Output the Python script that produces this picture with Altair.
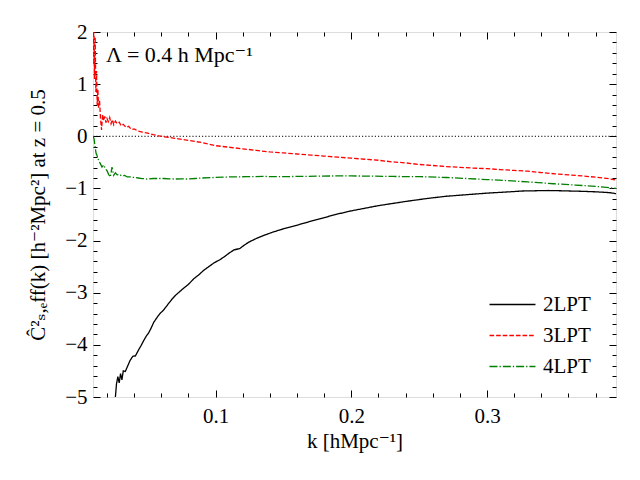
import altair as alt
import pandas as pd

# ---- data ----
k2 = [0.0240, 0.0255, 0.0262, 0.0270, 0.0280, 0.0290, 0.0300, 0.0310, 0.0320, 0.0335,
      0.0350, 0.0370, 0.0390, 0.0410, 0.0434, 0.0450, 0.0470, 0.0490, 0.0507, 0.0525,
      0.0544, 0.0570, 0.0590, 0.0618, 0.0650, 0.0680, 0.0705, 0.0735, 0.0766, 0.0800,
      0.0840, 0.0875, 0.0913, 0.0950, 0.0987, 0.1030, 0.1070, 0.1100, 0.1135, 0.1180,
      0.1210, 0.1245, 0.1300, 0.1356, 0.1420, 0.1480, 0.1550, 0.1620, 0.1700, 0.1800,
      0.1900, 0.2000, 0.2100, 0.2200, 0.2300, 0.2400, 0.2510, 0.2600, 0.2700, 0.2800,
      0.2900, 0.3000, 0.3100, 0.3200, 0.3250, 0.3350, 0.3450, 0.3550, 0.3620, 0.3700,
      0.3800, 0.3900, 0.3950]
c2 = [-5.6, -5.3, -5.0, -4.75, -4.61, -4.73, -4.55, -4.67, -4.5, -4.51,
      -4.42, -4.3, -4.22, -4.21, -4.09, -4.02, -3.92, -3.83, -3.77, -3.68,
      -3.57, -3.47, -3.4, -3.33, -3.22, -3.12, -3.05, -2.98, -2.91, -2.84,
      -2.73, -2.66, -2.57, -2.5, -2.43, -2.37, -2.3, -2.24, -2.18, -2.15,
      -2.09, -2.03, -1.96, -1.9, -1.84, -1.79, -1.74, -1.69, -1.63, -1.56,
      -1.49, -1.43, -1.38, -1.33, -1.29, -1.25, -1.21, -1.18, -1.15, -1.13,
      -1.11, -1.09, -1.075, -1.06, -1.05, -1.045, -1.04, -1.045, -1.05, -1.055,
      -1.065, -1.08, -1.10]

k3 = [0.0098, 0.0103, 0.0108, 0.0113, 0.0118, 0.0123, 0.0128, 0.0133, 0.0138, 0.0145,
      0.0152, 0.0160, 0.0168, 0.0176, 0.0184, 0.0192, 0.0200, 0.0210, 0.0220, 0.0230,
      0.0240, 0.0250, 0.0262, 0.0275, 0.0290, 0.0305, 0.0320, 0.0340, 0.0360, 0.0380,
      0.0400, 0.0430, 0.0460, 0.0500, 0.0540, 0.0580, 0.0620, 0.0660, 0.0700, 0.0750,
      0.0800, 0.0850, 0.0900, 0.0950, 0.1000, 0.1100, 0.1200, 0.1300, 0.1400, 0.1500,
      0.1600, 0.1700, 0.1800, 0.1900, 0.2000, 0.2100, 0.2200, 0.2300, 0.2400, 0.2500,
      0.2600, 0.2700, 0.2800, 0.2900, 0.3000, 0.3100, 0.3200, 0.3300, 0.3400, 0.3500,
      0.3600, 0.3700, 0.3800, 0.3900, 0.3950]
c3 = [1.4, 2.3, 1.1, 1.9, 0.85, 1.25, 0.6, 0.9, 0.55, 0.7,
      0.35, 0.12, 0.42, 0.3, 0.38, 0.26, 0.34, 0.28, 0.36, 0.24,
      0.32, 0.22, 0.29, 0.24, 0.27, 0.2, 0.23, 0.17, 0.19, 0.13,
      0.14, 0.1, 0.08, 0.06, 0.03, 0.01, -0.01, -0.02, -0.04, -0.06,
      -0.08, -0.1, -0.12, -0.15, -0.18, -0.21, -0.24, -0.27, -0.3, -0.32,
      -0.34, -0.36, -0.38, -0.4, -0.42, -0.44, -0.46, -0.49, -0.51, -0.54,
      -0.56, -0.58, -0.595, -0.61, -0.62, -0.64, -0.655, -0.67, -0.695, -0.72,
      -0.74, -0.76, -0.785, -0.815, -0.84]

k4 = [0.0098, 0.0105, 0.0112, 0.0120, 0.0128, 0.0138, 0.0150, 0.0163, 0.0176, 0.0188,
      0.0200, 0.0212, 0.0225, 0.0237, 0.0249, 0.0262, 0.0275, 0.0290, 0.0310, 0.0330,
      0.0350, 0.0372, 0.0400, 0.0430, 0.0460, 0.0496, 0.0540, 0.0580, 0.0618, 0.0660,
      0.0700, 0.0750, 0.0791, 0.0850, 0.0900, 0.0987, 0.1100, 0.1230, 0.1350, 0.1470,
      0.1600, 0.1750, 0.1900, 0.2000, 0.2150, 0.2300, 0.2510, 0.2700, 0.2850, 0.3000,
      0.3150, 0.3300, 0.3490, 0.3650, 0.3800, 0.3950]
c4 = [0.0, -0.05, -0.2, -0.33, -0.38, -0.46, -0.52, -0.59, -0.55, -0.62,
      -0.66, -0.73, -0.78, -0.59, -0.75, -0.7, -0.74, -0.73, -0.76, -0.75,
      -0.78, -0.78, -0.79, -0.8, -0.81, -0.82, -0.81, -0.81, -0.81, -0.815,
      -0.82, -0.815, -0.82, -0.81, -0.8, -0.79, -0.78, -0.775, -0.77, -0.775,
      -0.77, -0.765, -0.76, -0.76, -0.765, -0.77, -0.775, -0.79, -0.81, -0.83,
      -0.85, -0.875, -0.91, -0.935, -0.96, -1.0]

series = ["2LPT", "3LPT", "4LPT"]
colors = ["#000000", "#ff0000", "#008000"]
dashes = [[1, 0], [4.6, 2], [8, 2, 1.3, 2]]

zero_level = [0.0]

x_domain = [0.0097, 0.395]
y_domain = [-5, 2]
x_major = [0.1, 0.2, 0.3]
x_minor = [0.02, 0.04, 0.06, 0.08, 0.12, 0.14, 0.16, 0.18, 0.22, 0.24, 0.26, 0.28,
           0.32, 0.34, 0.36, 0.38]
y_major = [-5, -4, -3, -2, -1, 0, 1, 2]
y_minor = [round(-5 + 0.2 * i, 1) for i in range(36) if i % 5 != 0]

annotation = "Λ = 0.4 h Mpc⁻¹"
x_title = "k [hMpc⁻¹]"
y_title = "Ĉ²ₛ,ₑff(k) [h⁻²Mpc²] at z = 0.5"

FONT = "Liberation Serif, DejaVu Serif, serif"
FS = 21

rows = []
for name, ks, cs in [("2LPT", k2, c2), ("3LPT", k3, c3), ("4LPT", k4, c4)]:
    for kk, cc in zip(ks, cs):
        rows.append({"k": kk, "C": cc, "model": name})
df = pd.DataFrame(rows)

xs = alt.Scale(domain=x_domain, nice=False, zero=False)
ys = alt.Scale(domain=y_domain, nice=False, zero=False)


def tick_axis(orient, values, size):
    return alt.Axis(orient=orient, values=values, ticks=True, tickSize=size,
                    offset=-size, labels=False, domain=False, grid=False,
                    tickColor="black", tickWidth=1, title=None)


label_x = alt.Axis(orient="bottom", values=x_major, format=".1f", ticks=False,
                   tickSize=0, domain=False, grid=False, labelFont=FONT,
                   labelFontSize=FS, labelColor="black", labelPadding=8,
                   title=x_title, titleFont=FONT, titleFontSize=FS,
                   titleFontWeight="normal", titleColor="black", titlePadding=4)
label_y = alt.Axis(orient="left", values=y_major, format="d", ticks=False,
                   tickSize=0, domain=False, grid=False, labelFont=FONT,
                   labelFontSize=FS, labelColor="black", labelPadding=6,
                   title=y_title, titleFont=FONT, titleFontSize=FS,
                   titleFontWeight="normal", titleColor="black", titlePadding=16)

# long horizontal legend glyph drawn as a custom symbol path
legend_glyph = "M-4,0L4,0"

lines = alt.Chart(df).mark_line(strokeWidth=1.3, clip=True).encode(
    x=alt.X("k:Q", scale=xs, axis=label_x),
    y=alt.Y("C:Q", scale=ys, axis=label_y),
    color=alt.Color("model:N", scale=alt.Scale(domain=series, range=colors),
                    legend=alt.Legend(title=None, orient="none", legendX=409,
                                      legendY=262, symbolType=legend_glyph,
                                      symbolSize=132, symbolStrokeWidth=1.3,
                                      labelFont=FONT, labelFontSize=FS,
                                      labelColor="black", labelOffset=20,
                                      rowPadding=9, padding=0)),
    strokeDash=alt.StrokeDash("model:N", scale=alt.Scale(domain=series, range=dashes),
                              legend=None),
    detail="model:N",
)


def ghost(xaxis, yaxis):
    return alt.Chart(df).mark_point(opacity=0, size=1).encode(
        x=alt.X("k:Q", scale=xs, axis=xaxis),
        y=alt.Y("C:Q", scale=ys, axis=yaxis),
    )


zero = alt.Chart(pd.DataFrame({"z": zero_level})).mark_rule(
    color="black", strokeWidth=1, strokeDash=[1.2, 2]
).encode(y=alt.Y("z:Q", scale=ys, axis=None))

note = alt.Chart(pd.DataFrame({"t": [annotation]})).mark_text(
    align="left", baseline="alphabetic", font=FONT, fontSize=22, color="black"
).encode(x=alt.value(13), y=alt.value(30), text="t:N")

chart = alt.layer(
    zero,
    lines,
    ghost(tick_axis("bottom", x_major, 7), tick_axis("left", y_major, 7)),
    ghost(tick_axis("bottom", x_minor, 4), tick_axis("left", y_minor, 4)),
    ghost(tick_axis("top", x_major, 7), tick_axis("right", y_major, 7)),
    ghost(tick_axis("top", x_minor, 4), tick_axis("right", y_minor, 4)),
    note,
).resolve_axis(x="independent", y="independent").properties(
    width=523, height=365,
    autosize=alt.AutoSizeParams(type="none"),
    padding={"left": 85, "top": 24, "right": 16, "bottom": 60},
).configure_view(stroke="black", strokeWidth=1).configure_axis(
    grid=False
).configure(background="white")

chart.save("out.html", embed_options={"renderer": "svg", "actions": False})
